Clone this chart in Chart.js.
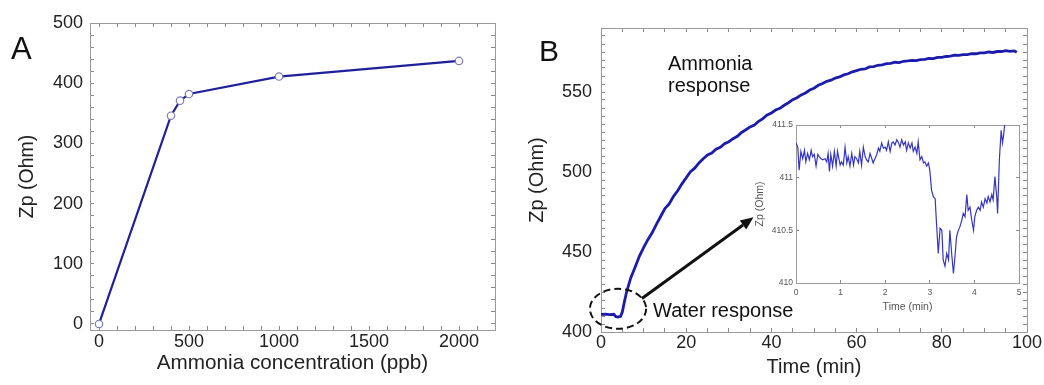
<!DOCTYPE html>
<html><head><meta charset="utf-8">
<script src="https://cdn.jsdelivr.net/npm/chart.js@4.4.1/dist/chart.umd.min.js"></script>
<style>
html,body{margin:0;padding:0;width:1044px;height:385px;overflow:hidden;background:#fff;font-family:"Liberation Sans",Arial,sans-serif;}
.box{position:absolute;}
.lbl{position:absolute;color:#111;white-space:nowrap;font-family:"Liberation Sans",Arial,sans-serif;}
</style></head><body>
<div class="box" style="left:0;top:0;width:510px;height:385px"><canvas id="cA" width="510" height="385"></canvas></div>
<div class="box" style="left:520px;top:0;width:540px;height:385px"><canvas id="cB" width="540" height="385"></canvas></div>
<div class="box" style="left:740px;top:110px;width:300px;height:205px"><canvas id="cI" width="300" height="205"></canvas></div>
<div class="lbl" style="left:11px;top:32px;font-size:31px;line-height:34px">A</div>
<div class="lbl" style="left:539px;top:34px;font-size:30px;line-height:34px">B</div>
<div class="lbl" style="left:668px;top:52px;font-size:20px;line-height:22px">Ammonia<br>response</div>
<div class="lbl" style="left:653px;top:299px;font-size:20px;line-height:23px">Water response</div>
<script>
// ---- Panel A data ----
const concentration = [0, 400, 450, 500, 1000, 2000];
const zpA = [0, 346, 371, 382, 411, 437];
const majorA_x = 500, majorA_y = 100;

// ---- Panel B data (main curve) ----
const timeB = [0,1,2,3,3.5,4,4.6,5,5.5,6,7,8,9,10,11,12,13,14,15,16,17,18,19,20,21,22,23,24,25,26,27,28,29,30,31,32,33,34,35,36,37,38,39,40,41,42,43,44,45,46,47,48,49,50,51,52,53,54,55,56,57,58,59,60,61,62,63,64,65,66,67,68,69,70,71,72,73,74,75,76,77,78,79,80,81,82,83,84,85,86,87,88,89,90,91,92,93,94,95,96,97,97.6];
const zpB = [411.0,411.2,410.9,411.1,409.6,409.4,409.8,412.5,419,425,434,440.5,447.3,452.8,457.7,462,467.3,472.2,477.1,480,484.7,488.3,492.6,496.4,500.2,502.4,505.7,508.3,510.7,511.8,514.2,515.4,517.7,518.9,520.8,522.3,524.7,526.4,528.2,529.4,531.7,533.4,535.7,536.9,538.7,539.8,541.7,543.3,545.2,546.4,548.2,549.4,551.2,552.4,554.2,555.3,556.7,557.4,558.7,559.4,560.7,561.4,562.6,563.4,564.2,564.4,565.7,565.9,566.7,566.9,567.7,567.9,568.6,568.4,569.2,569.4,569.7,569.6,570.2,570.4,571,570.9,571.6,571.7,572.2,572.4,573,572.9,573.4,573.4,574,573.9,574.5,574.4,575,574.7,575.3,575.3,575.8,575.4,575.7,574.8];
const majorB_x = 20, majorB_y = 50;

// ---- Inset data ----
const insetTime = [0,0.04,0.07,0.11,0.15,0.19,0.22,0.26,0.30,0.34,0.37,0.41,0.45,0.49,0.52,0.56,0.60,0.65,0.69,0.72,0.75,0.78,0.82,0.86,0.90,0.93,0.99,1.02,1.06,1.10,1.14,1.17,1.21,1.25,1.29,1.32,1.36,1.40,1.43,1.47,1.51,1.55,1.58,1.62,1.66,1.70,1.73,1.77,1.81,1.85,1.88,1.92,1.96,2.00,2.03,2.07,2.11,2.15,2.18,2.22,2.26,2.30,2.33,2.37,2.41,2.45,2.48,2.52,2.56,2.60,2.63,2.67,2.71,2.74,2.78,2.82,2.86,2.89,2.93,2.97,3.00,3.04,3.08,3.12,3.15,3.19,3.23,3.27,3.30,3.34,3.38,3.42,3.45,3.49,3.53,3.57,3.60,3.64,3.68,3.72,3.75,3.79,3.83,3.86,3.90,3.94,3.98,4.01,4.05,4.09,4.13,4.16,4.20,4.24,4.28,4.31,4.35,4.39,4.42,4.46,4.50,4.52,4.56,4.60,4.63,4.66,4.69];
const insetZp = [411.33,411.29,411.07,411.25,411.18,411.26,411.15,411.23,411.17,411.26,411.20,411.22,411.11,411.22,411.20,411.18,411.17,411.18,411.15,411.23,411.06,411.22,411.11,411.25,411.11,411.25,411.12,411.15,411.12,411.29,411.14,411.20,411.11,411.23,411.12,411.20,411.18,411.14,411.25,411.12,411.29,411.20,411.17,411.15,411.23,411.18,411.14,411.18,411.22,411.28,411.25,411.33,411.28,411.29,411.26,411.34,411.25,411.33,411.34,411.31,411.36,411.33,411.29,411.36,411.31,411.34,411.26,411.33,411.28,411.33,411.25,411.29,411.23,411.34,411.17,411.20,411.14,411.15,411.11,411.14,411.07,410.88,410.82,410.80,410.57,410.28,410.52,410.50,410.22,410.16,410.28,410.22,410.50,410.28,410.09,410.28,410.44,410.50,410.54,410.60,410.66,410.63,410.84,410.69,410.72,410.60,410.50,410.63,410.69,410.72,410.69,410.77,410.72,410.80,410.76,410.82,410.77,410.84,410.79,411.01,410.82,410.66,411.17,411.45,411.33,411.42,411.55];

// ---- Annotations (data units of panel B) ----
const waterEllipse = {t: 4.0, v: 414.5, rt: 6.6, rv: 12.5};
const arrowFrom = [9.6, 420.9];
const arrowTo = [35.8, 471.7];

Chart.defaults.font.family = '"Liberation Sans", Arial, sans-serif';
Chart.defaults.color = '#222';

const pts = (xs, ys) => xs.map((x, i) => ({x: x, y: ys[i]}));
const majorOnly = (major) => (v) => {
  const r = v / major;
  return Math.abs(r - Math.round(r)) < 1e-6 ? String(Math.round(v * 100) / 100) : '';
};

function axes(cfg) {
  const grid = {drawOnChartArea: false, tickLength: cfg.tl, color: '#8a8a8a', tickWidth: 1};
  const border = {color: '#9a9a9a', width: 1};
  const tk = (step, extra) => Object.assign({stepSize: step, maxTicksLimit: 1000, autoSkip: false, includeBounds: false}, extra);
  return {
    x: {type: 'linear', position: 'bottom', min: cfg.xMin, max: cfg.xMax,
      ticks: tk(cfg.xStep, {maxRotation: 0, padding: cfg.xPad, color: cfg.tickColor, font: {size: cfg.tickSize}, callback: majorOnly(cfg.xMajor)}),
      grid: grid, border: border,
      title: {display: true, text: cfg.xTitle, color: cfg.tickColor, font: {size: cfg.xTitleSize}, padding: {top: 0, bottom: cfg.xTitlePad}},
      afterFit: s => { s.height = cfg.bottomH; }},
    x2: {type: 'linear', position: 'top', min: cfg.xMin, max: cfg.xMax,
      ticks: tk(cfg.xStep, {display: false}),
      grid: grid, border: border, afterFit: s => { s.height = 0; }},
    y: {type: 'linear', position: 'left', min: cfg.yMin, max: cfg.yMax,
      ticks: tk(cfg.yStep, {padding: cfg.yPad, color: cfg.tickColor, font: {size: cfg.tickSize}, callback: majorOnly(cfg.yMajor)}),
      grid: grid, border: border,
      title: {display: true, text: cfg.yTitle, color: cfg.tickColor, font: {size: cfg.yTitleSize}, padding: {top: cfg.yTitlePad, bottom: 0}},
      afterFit: s => { s.width = cfg.leftW; }},
    y2: {type: 'linear', position: 'right', min: cfg.yMin, max: cfg.yMax,
      ticks: tk(cfg.yStep, {display: false}),
      grid: grid, border: border, afterFit: s => { s.width = 0; }}
  };
}

const common = {responsive: false, animation: false, devicePixelRatio: 1, events: [],
  plugins: {legend: {display: false}, tooltip: {enabled: false}}};

// Panel A
new Chart(document.getElementById('cA'), {
  type: 'scatter',
  data: {datasets: [{data: pts(concentration, zpA), showLine: true, borderColor: '#20209a', borderWidth: 2.2,
    pointRadius: 3.7, pointBackgroundColor: '#ffffff', pointBorderColor: '#7c7cb4', pointBorderWidth: 1.2, clip: false}]},
  options: Object.assign({}, common, {
    layout: {padding: {top: 23, right: 15, bottom: 0, left: 0}},
    scales: axes({xMin: -50, xMax: 2200, xStep: 100, xMajor: majorA_x, yMin: -10, yMax: 500, yStep: 20, yMajor: majorA_y,
      tl: -4, xPad: 5, yPad: 11, tickColor: '#222', tickSize: 18, xTitleSize: 20.7, yTitleSize: 19.5,
      xTitle: 'Ammonia concentration (ppb)', yTitle: 'Zp (Ohm)', xTitlePad: 9, yTitlePad: 16, bottomH: 55, leftW: 90})
  })
});

// Panel B
const annotPlugin = {
  id: 'waterAnnot',
  afterDatasetsDraw(chart) {
    const {ctx, scales: {x, y}} = chart;
    ctx.save();
    const cx = x.getPixelForValue(waterEllipse.t), cy = y.getPixelForValue(waterEllipse.v);
    const rx = Math.abs(x.getPixelForValue(waterEllipse.t + waterEllipse.rt) - cx);
    const ry = Math.abs(y.getPixelForValue(waterEllipse.v + waterEllipse.rv) - cy);
    ctx.setLineDash([7, 4]);
    ctx.lineWidth = 2;
    ctx.strokeStyle = '#111';
    ctx.beginPath();
    ctx.ellipse(cx, cy, rx, ry, 0, 0, Math.PI * 2);
    ctx.stroke();
    ctx.setLineDash([]);
    const x1 = x.getPixelForValue(arrowFrom[0]), y1 = y.getPixelForValue(arrowFrom[1]);
    const x2 = x.getPixelForValue(arrowTo[0]), y2 = y.getPixelForValue(arrowTo[1]);
    const a = Math.atan2(y2 - y1, x2 - x1);
    const hl = 13, hw = 5.5;
    ctx.lineWidth = 3;
    ctx.beginPath();
    ctx.moveTo(x1, y1);
    ctx.lineTo(x2 - hl * Math.cos(a), y2 - hl * Math.sin(a));
    ctx.stroke();
    ctx.fillStyle = '#111';
    ctx.beginPath();
    ctx.moveTo(x2, y2);
    ctx.lineTo(x2 - hl * Math.cos(a) + hw * Math.sin(a), y2 - hl * Math.sin(a) - hw * Math.cos(a));
    ctx.lineTo(x2 - hl * Math.cos(a) - hw * Math.sin(a), y2 - hl * Math.sin(a) + hw * Math.cos(a));
    ctx.closePath();
    ctx.fill();
    ctx.restore();
  }
};
new Chart(document.getElementById('cB'), {
  type: 'scatter',
  data: {datasets: [{data: pts(timeB, zpB), showLine: true, borderColor: '#1c1cab', borderWidth: 2.8, pointRadius: 0}]},
  options: Object.assign({}, common, {
    layout: {padding: {top: 28, right: 33, bottom: 0, left: 0}},
    scales: axes({xMin: 0, xMax: 100, xStep: 5, xMajor: majorB_x, yMin: 400, yMax: 590, yStep: 5, yMajor: majorB_y,
      tl: -4, xPad: 4, yPad: 13, tickColor: '#222', tickSize: 18, xTitleSize: 20, yTitleSize: 20,
      xTitle: 'Time (min)', yTitle: 'Zp (Ohm)', xTitlePad: 6, yTitlePad: 5, bottomH: 53, leftW: 81})
  }),
  plugins: [annotPlugin]
});

// Inset
new Chart(document.getElementById('cI'), {
  type: 'scatter',
  data: {datasets: [{data: pts(insetTime, insetZp), showLine: true, borderColor: '#3636c4', borderWidth: 1.2, pointRadius: 0}]},
  options: Object.assign({}, common, {
    layout: {padding: {top: 15, right: 21, bottom: 0, left: 0}},
    scales: axes({xMin: 0, xMax: 5, xStep: 1, xMajor: 1, yMin: 410, yMax: 411.5, yStep: 0.5, yMajor: 0.5,
      tl: -3, xPad: 8, yPad: 6, tickColor: '#555', tickSize: 8.5, xTitleSize: 10.5, yTitleSize: 10.5,
      xTitle: 'Time (min)', yTitle: 'Zp (Ohm)', xTitlePad: 2, yTitlePad: 13.7, bottomH: 32, leftW: 56})
  })
});
</script>
</body></html>
